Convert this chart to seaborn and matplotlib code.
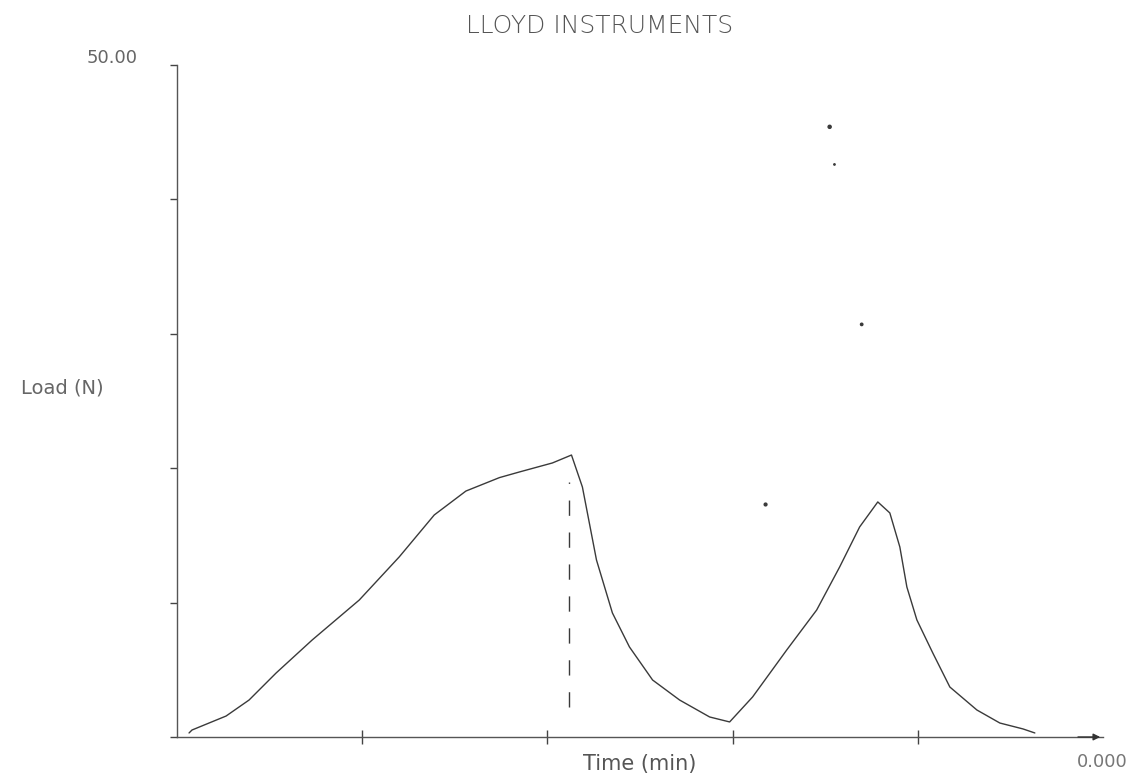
import matplotlib
matplotlib.use("Agg")
import matplotlib.pyplot as plt
import seaborn as sns
import pandas as pd

# --- data (time in min, load in N) ---
time_min = [0.065, 0.081, 0.265, 0.389, 0.535, 0.730, 0.984, 1.200, 1.389, 1.560,
            1.741, 1.849, 2.027, 2.130, 2.189, 2.265, 2.351, 2.443, 2.568, 2.714,
            2.876, 2.984, 3.108, 3.292, 3.454, 3.578, 3.686, 3.784, 3.849, 3.903,
            3.941, 3.995, 4.081, 4.173, 4.319, 4.443, 4.568, 4.632]
load_n = [0.30, 0.52, 1.56, 2.75, 4.76, 7.22, 10.19, 13.40, 16.52, 18.30,
          19.30, 19.72, 20.39, 20.98, 18.60, 13.17, 9.23, 6.70, 4.24, 2.75,
          1.49, 1.12, 2.98, 6.47, 9.45, 12.65, 15.63, 17.49, 16.67, 14.14,
          11.16, 8.71, 6.25, 3.72, 2.01, 1.04, 0.60, 0.30]
marker_x = [2.119, 2.119]
marker_y = [2.2, 19.0]
speck_x = [3.524, 3.550, 3.697, 3.178]
speck_y = [45.4, 42.6, 30.7, 17.3]
y_top_label = "50.00"
x_end_label = "0.000"
title = "LLOYD INSTRUMENTS"
x_label = "Time (min)"
y_label = "Load (N)"
y_ticks = [0, 10, 20, 30, 40, 50]
x_ticks = [1, 2, 3, 4]

sns.set_style("white")
plt.rcParams['font.family'] = ['DejaVu Sans']

fig = plt.figure(figsize=(11.38, 7.81), dpi=100)
ax = fig.add_axes([177/1138, 44/781, 926/1138, 672/781])

ink = "#3a3a3a"
df = pd.DataFrame({"t": time_min, "load": load_n})
sns.lineplot(data=df, x="t", y="load", sort=False, ax=ax, color=ink, lw=1.0)
ax.plot(marker_x, marker_y, color=ink, lw=1.0, linestyle=(0, (11, 12)))
ax.scatter(speck_x, speck_y, s=[5, 1, 3, 4], color=ink, zorder=3)

ax.set_xlim(0, 5)
ax.set_ylim(0, 50)
for s in ["top", "right"]:
    ax.spines[s].set_visible(False)
for s in ["left", "bottom"]:
    ax.spines[s].set_color("#555555")
    ax.spines[s].set_linewidth(1.0)
ax.annotate("", xy=(5.0, 0), xytext=(4.85, 0), xycoords="data",
            arrowprops=dict(arrowstyle="-|>", color="#333333", lw=1.0,
                            mutation_scale=10), annotation_clip=False)

ax.set_yticks(y_ticks)
ax.set_yticklabels([])
ax.set_xticks(x_ticks)
ax.set_xticklabels([])
ax.tick_params(axis="y", direction="out", length=5, width=1, color="#444444", left=True)
ax.tick_params(axis="x", direction="inout", length=10, width=1, color="#444444", bottom=True)
ax.set_xlabel("")
ax.set_ylabel("")

fig.text(600/1138, 1 - 26/781, title, ha="center", va="center",
         fontsize=18, color="#555555", fontweight="light")
fig.text(112/1138, 1 - 58/781, y_top_label, ha="center", va="center",
         fontsize=13, color="#666666")
fig.text(62/1138, 1 - 388/781, y_label, ha="center", va="center",
         fontsize=14, color="#666666")
fig.text(640/1138, 1 - 764/781, x_label, ha="center", va="center",
         fontsize=15, color="#555555")
fig.text(1102/1138, 1 - 762/781, x_end_label, ha="center", va="center",
         fontsize=13, color="#777777")

fig.savefig("out.png", dpi=100, facecolor="white")
